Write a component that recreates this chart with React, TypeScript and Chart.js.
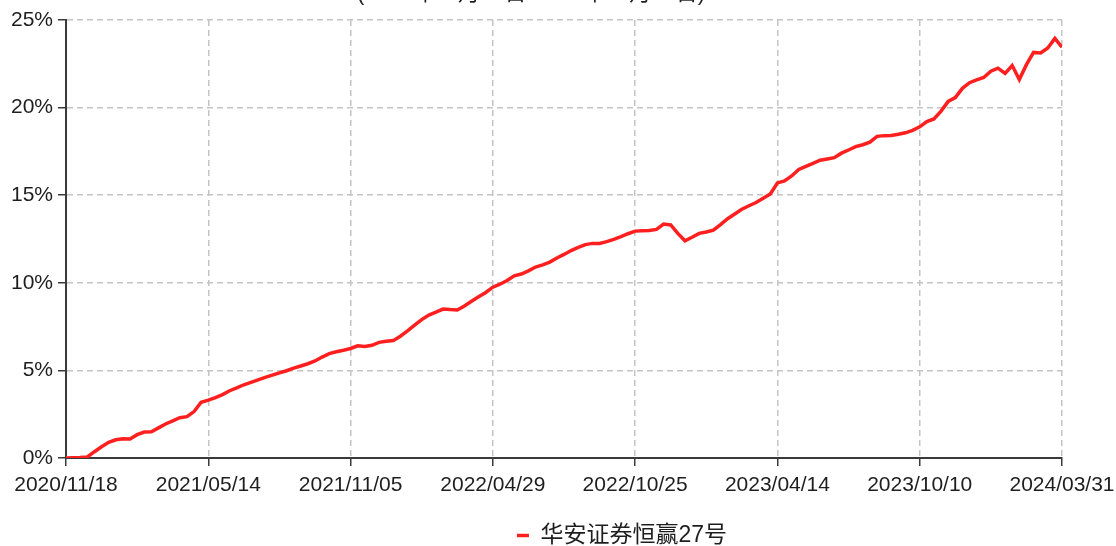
import React, { useEffect, useRef } from "react";
import { Chart, registerables } from "chart.js";

Chart.register(...registerables);

const SERIES_NAME = "华安证券恒赢27号";
const TITLE_TEXT = "(2020年11月18日-2024年03月31日)";
const TICK_LABELS = [
  "2020/11/18",
  "2021/05/14",
  "2021/11/05",
  "2022/04/29",
  "2022/10/25",
  "2023/04/14",
  "2023/10/10",
  "2024/03/31",
];
const POINTS_PER_TICK = 20;
const Y_TICKS = [0, 5, 10, 15, 20, 25];

// cumulative return (%) sampled evenly between first and last date
const VALUES = [
  0, 0.02, 0.03, 0.06, 0.36, 0.64, 0.9, 1.04, 1.1, 1.08,
  1.33, 1.48, 1.5, 1.72, 1.94, 2.12, 2.3, 2.36, 2.65, 3.18,
  3.3, 3.45, 3.62, 3.84, 4.0, 4.18, 4.32, 4.46, 4.6, 4.73,
  4.86, 4.98, 5.13, 5.25, 5.38, 5.54, 5.76, 5.96, 6.06, 6.15,
  6.25, 6.4, 6.36, 6.43, 6.6, 6.66, 6.7, 6.95, 7.25, 7.58,
  7.9, 8.16, 8.33, 8.5, 8.47, 8.45, 8.68, 8.95, 9.2, 9.45,
  9.75, 9.92, 10.13, 10.4, 10.5, 10.68, 10.9, 11.02, 11.18, 11.42,
  11.62, 11.84, 12.02, 12.18, 12.25, 12.25, 12.35, 12.48, 12.63, 12.8,
  12.95, 12.97, 12.98, 13.05, 13.35, 13.3, 12.82, 12.4, 12.6, 12.82,
  12.9, 13.0, 13.32, 13.66, 13.93, 14.2, 14.4, 14.58, 14.82, 15.07,
  15.7, 15.82, 16.1, 16.47, 16.65, 16.82, 17.0, 17.07, 17.14, 17.4,
  17.58, 17.77, 17.88, 18.03, 18.36, 18.4, 18.41, 18.48, 18.56, 18.7,
  18.9, 19.2, 19.35, 19.8, 20.35, 20.57, 21.1, 21.42, 21.58, 21.72,
  22.08, 22.25, 21.95, 22.4, 21.6, 22.45, 23.15, 23.12, 23.4, 23.95,
  23.45,
];

const FONT = "'Liberation Sans', 'Noto Sans CJK SC', Arial, sans-serif";
const LINE_COLOR = "#ff1f1f";
const TEXT_COLOR = "#1e1e1e";
const GRID_COLOR = "#c4c4c4";
const AXIS_COLOR = "#3a3a3a";

const titlePlugin = {
  id: "clippedTitle",
  afterDraw(chart: any) {
    const ctx = chart.ctx;
    ctx.save();
    ctx.font = `22px ${FONT}`;
    ctx.fillStyle = TEXT_COLOR;
    ctx.textAlign = "center";
    ctx.textBaseline = "alphabetic";
    ctx.fillText(TITLE_TEXT, 531, 0);
    ctx.restore();
  },
};

const legendShiftPlugin = {
  id: "legendShift",
  afterUpdate(chart: any) {
    const lg = chart.legend;
    if (!lg) return;
    lg.left += 91;
    lg.right += 91;
    lg.top += 2;
    lg.bottom += 2;
  },
};

export default function App() {
  const ref = useRef<HTMLCanvasElement | null>(null);

  useEffect(() => {
    if (!ref.current) return;
    const data = VALUES.map((v, i) => ({ x: i, y: v }));
    const chart = new Chart(ref.current, {
      type: "line",
      data: {
        datasets: [
          {
            label: SERIES_NAME,
            data,
            borderColor: LINE_COLOR,
            backgroundColor: LINE_COLOR,
            borderWidth: 3.5,
            pointRadius: 0,
            tension: 0,
            fill: false,
          },
        ],
      },
      options: {
        animation: false,
        responsive: false,
        layout: { padding: { top: 20, right: 54, bottom: -9, left: 0 } },
        plugins: {
          legend: {
            position: "bottom",
            labels: {
              usePointStyle: true,
              pointStyle: "line",
              pointStyleWidth: 12,
              color: TEXT_COLOR,
              font: { size: 23, family: FONT },
              padding: 10,
            },
          },
          tooltip: { enabled: false },
          title: { display: false },
        },
        scales: {
          x: {
            type: "linear",
            min: 0,
            max: (TICK_LABELS.length - 1) * POINTS_PER_TICK,
            afterBuildTicks: (scale: any) => {
              scale.ticks = TICK_LABELS.map((_, i) => ({ value: i * POINTS_PER_TICK }));
            },
            afterFit: (scale: any) => {
              scale.height = 54;
              scale.paddingLeft = 0;
              scale.paddingRight = 0;
            },
            ticks: {
              autoSkip: false,
              maxRotation: 0,
              color: TEXT_COLOR,
              font: { size: 21, family: FONT },
              padding: 7,
              callback: (v: any) => TICK_LABELS[Math.round(Number(v) / POINTS_PER_TICK)] ?? "",
            },
            grid: {
              color: GRID_COLOR,
              lineWidth: 1.5,
              tickLength: 8,
              tickColor: AXIS_COLOR,
              tickWidth: 1.5,
            },
            border: { display: true, color: AXIS_COLOR, width: 2, dash: [6, 4] },
          },
          y: {
            type: "linear",
            min: 0,
            max: 25,
            afterBuildTicks: (scale: any) => {
              scale.ticks = Y_TICKS.map((v) => ({ value: v }));
            },
            afterFit: (scale: any) => {
              scale.width = 66;
              scale.paddingTop = 0;
              scale.paddingBottom = 0;
            },
            ticks: {
              color: TEXT_COLOR,
              font: { size: 21, family: FONT },
              padding: 5,
              callback: (v: any) => `${v}%`,
            },
            grid: {
              color: GRID_COLOR,
              lineWidth: 1.5,
              tickLength: 8,
              tickColor: AXIS_COLOR,
              tickWidth: 1.5,
            },
            border: { display: true, color: AXIS_COLOR, width: 2, dash: [6, 4] },
          },
        },
      },
      plugins: [titlePlugin, legendShiftPlugin],
    });
    return () => chart.destroy();
  }, []);

  return (
    <div style={{ position: "absolute", left: 0, top: 0, width: 1116, height: 546, background: "#fff" }}>
      <canvas ref={ref} width={1116} height={546} />
    </div>
  );
}
